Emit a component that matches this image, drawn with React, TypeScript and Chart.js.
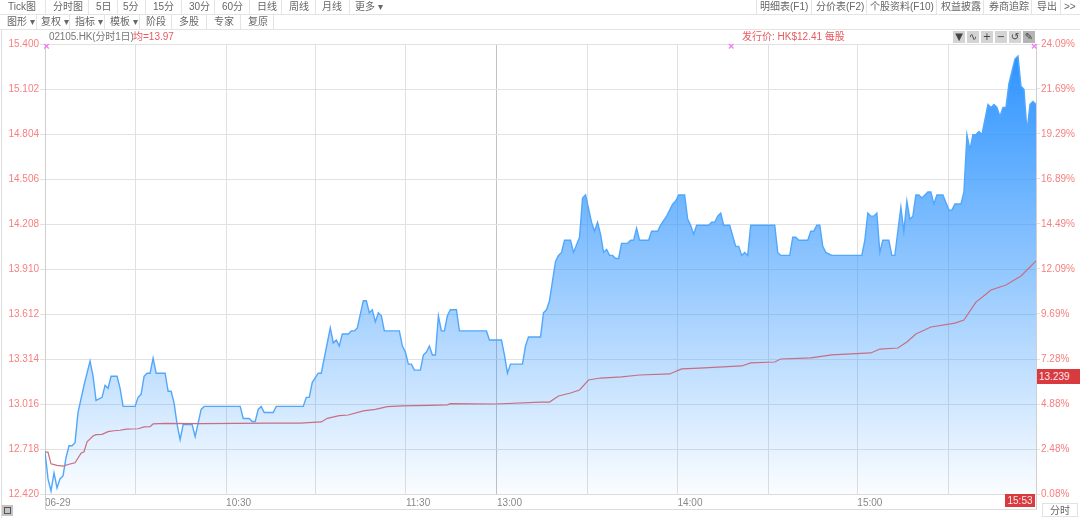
import React, { useEffect, useRef } from "react";
import { Chart, registerables } from "chart.js";

Chart.register(...registerables);

// Trading minutes since 09:30 (lunch break removed)
const priceMinutes = [0,1,2,3,4,5,6,7,8,9,10,11,13,15,16,17,19,20,21,22,24,25,26,30,31,32,33,34,35,36,37,40,41,42,43,44,45,46,49,50,52,53,65,66,68,69,70,71,72,73,75,76,77,86,87,88,89,91,92,95,96,97,98,99,101,102,103,104,106,107,108,109,110,111,112,113,118,119,120,121,122,123,125,126,127,128,129,130,131,132,133,134,135,137,138,147,148,152,153,154,155,159,160,161,165,166,167,168,170,171,172,173,175,176,178,179,180,182,183,184,185,186,187,188,189,190,191,192,194,195,196,197,198,201,202,204,205,207,209,210,211,213,214,215,216,217,221,222,223,224,225,226,228,230,231,232,233,234,235,243,244,245,248,249,250,251,254,255,256,257,258,259,260,262,272,273,274,275,276,277,278,279,281,282,283,285,286,287,288,289,290,291,292,294,295,296,297,299,301,302,303,305,306,307,308,309,310,311,312,314,315,316,317,318,319,320,321,323,324,325,326,327,328,329,330];
const priceValues = [12.70,12.52,12.44,12.56,12.46,12.52,12.54,12.66,12.74,12.74,12.76,12.96,13.14,13.30,13.20,13.04,13.06,13.14,13.12,13.20,13.20,13.12,13.00,13.00,13.06,13.08,13.20,13.22,13.22,13.32,13.22,13.22,13.10,13.10,13.02,12.88,12.78,12.88,12.88,12.80,12.98,13.00,13.00,12.92,12.92,12.90,12.90,12.98,13.00,12.96,12.96,12.96,13.00,13.00,13.06,13.06,13.16,13.22,13.22,13.52,13.42,13.44,13.40,13.48,13.48,13.50,13.50,13.52,13.70,13.70,13.62,13.64,13.56,13.62,13.60,13.50,13.50,13.40,13.36,13.28,13.28,13.24,13.24,13.34,13.36,13.40,13.34,13.34,13.60,13.50,13.50,13.60,13.64,13.64,13.50,13.50,13.44,13.44,13.34,13.22,13.28,13.28,13.40,13.46,13.46,13.62,13.64,13.70,13.96,14.00,14.02,14.10,14.10,14.02,14.12,14.38,14.40,14.22,14.16,14.22,14.14,14.02,14.04,14.00,14.00,13.98,13.98,14.08,14.08,14.10,14.10,14.18,14.10,14.10,14.16,14.16,14.20,14.26,14.34,14.36,14.40,14.40,14.24,14.20,14.14,14.20,14.20,14.22,14.22,14.26,14.28,14.20,14.20,14.06,14.06,14.00,14.02,14.00,14.20,14.20,14.02,14.00,14.00,14.12,14.12,14.10,14.10,14.16,14.16,14.20,14.20,14.06,14.02,14.00,14.00,14.10,14.28,14.26,14.26,14.28,14.02,14.10,14.10,14.00,14.00,14.32,14.16,14.36,14.24,14.26,14.40,14.40,14.38,14.42,14.42,14.34,14.40,14.40,14.30,14.30,14.34,14.34,14.42,14.80,14.70,14.80,14.80,14.82,14.80,15.00,14.98,15.00,14.98,14.92,14.98,14.98,15.14,15.30,15.32,15.12,15.10,14.82,15.00,15.02,15.00];

const avgMinutes = [0,1,2,4,6,8,10,12,13,14,16,17,19,21,23,25,27,31,33,35,36,40,52,75,85,92,94,98,101,106,110,114,119,128,134,135,150,165,168,171,175,178,181,185,192,198,208,212,218,232,235,243,245,255,262,275,278,284,287,290,295,303,306,310,313,315,320,325,328,330];
const avgValues = [12.70,12.696,12.62,12.61,12.605,12.617,12.627,12.69,12.70,12.766,12.804,12.813,12.815,12.833,12.839,12.842,12.85,12.852,12.864,12.866,12.884,12.888,12.886,12.89,12.89,12.897,12.921,12.939,12.943,12.97,12.981,12.998,13.003,13.007,13.01,13.018,13.016,13.029,13.029,13.069,13.089,13.109,13.175,13.188,13.195,13.208,13.215,13.248,13.254,13.268,13.288,13.294,13.314,13.321,13.341,13.354,13.38,13.387,13.427,13.48,13.526,13.552,13.572,13.691,13.738,13.771,13.804,13.864,13.923,13.963];

const priceTicks = [12.42,12.718,13.016,13.314,13.612,13.91,14.208,14.506,14.804,15.102,15.4];
const pctTicks = [0.08,2.48,4.88,7.28,9.69,12.09,14.49,16.89,19.29,21.69,24.09];
const gridMinutes = [0,30,60.3,90.2,120.2,150.5,180.5,210.6,240.8,270.5,300.7];
const timeLabels = ["06-29","","10:30","","11:30","13:00","","14:00","","15:00",""];
const markerMinutes = [0.5,228.5,329.4];
const markerValues = [15.385,15.385,15.385];

const toolbarRow1 = ["Tick图","分时图","5日","5分","15分","30分","60分","日线","周线","月线","更多 ▾"];
const toolbarRow1Right = ["明细表(F1)","分价表(F2)","个股资料(F10)","权益披露","券商追踪","导出",">>"];
const toolbarRow2 = ["图形 ▾","复权 ▾","指标 ▾","模板 ▾","阶段","多股","专家","复原"];
const toolIcons = ["▼","∿","+","−","↺","✎"];
const titleText = "02105.HK(分时1日)";
const avgText = "均=13.97";
const issueText = "发行价: HK$12.41 每股";
const lastPrice = "13.239";
const lastTime = "15:53";
const modeLabel = "分时";

// layout only
const row1X = [8,53,96,123,153,189,222,257,289,322,355];
const row1Sep = [45,88,117,145,181,214,249,281,315,349];
const row1RightX = [760,816,870,941,989,1037,1064];
const row1RightSep = [756,811,866,936,983,1031,1060];
const row2X = [7,41,75,110,146,179,214,248];
const row2Sep = [36,69,104,139,171,206,240,273];
const iconX = [953,967,981,995,1009,1023];

const CJK = '"Liberation Sans","Noto Sans CJK SC",sans-serif';
const textGray = "#666";
const tickRed = "#f77f7f";
const tickFont = { family: "Liberation Sans", size: 10 };

const abs = (left: number, top: number, extra: React.CSSProperties = {}): React.CSSProperties => ({
  position: "absolute", left, top, whiteSpace: "nowrap", ...extra,
});

export default function App() {
  const ref = useRef<HTMLCanvasElement | null>(null);
  useEffect(() => {
    const chart = new Chart(ref.current as HTMLCanvasElement, {
      type: "line",
      data: {
        datasets: [
          {
            label: "markers",
            data: markerMinutes.map((x, i) => ({ x, y: markerValues[i] })),
            showLine: false,
            pointStyle: "crossRot",
            pointRadius: 3.2,
            pointBorderWidth: 1.2,
            pointBorderColor: "#f27af2",
            pointBackgroundColor: "#f27af2",
            clip: false,
            order: 0,
          },
          {
            label: "均价",
            data: avgMinutes.map((x, i) => ({ x, y: avgValues[i] })),
            borderColor: "#c76f80",
            borderWidth: 1.2,
            pointRadius: 0,
            tension: 0,
            fill: false,
            order: 1,
          },
          {
            label: "价格",
            data: priceMinutes.map((x, i) => ({ x, y: priceValues[i] })),
            borderColor: "#52a7fb",
            borderWidth: 1.4,
            pointRadius: 0,
            tension: 0,
            fill: "start",
            backgroundColor: (ctx: any) => {
              const a = ctx.chart.chartArea;
              if (!a) return "rgba(48,150,255,0.5)";
              const g = ctx.chart.ctx.createLinearGradient(0, a.top, 0, a.bottom);
              g.addColorStop(0, "rgba(40,145,255,1)");
              g.addColorStop(1, "rgba(40,145,255,0.02)");
              return g;
            },
            order: 2,
          },
        ],
      },
      options: {
        responsive: false,
        animation: false,
        devicePixelRatio: 1,
        layout: { padding: { top: 44, bottom: 8, left: 0, right: 0 } },
        plugins: { legend: { display: false }, tooltip: { enabled: false } },
        events: [],
        scales: {
          x: {
            type: "linear",
            min: 0,
            max: 330,
            afterBuildTicks: (s: any) => { s.ticks = gridMinutes.map((value) => ({ value })); },
            afterFit: (s: any) => { s.height = 16; },
            grid: {
              color: (c: any) => (c.index === 5 ? "#c2c2c2" : "#e0e0e0"),
              tickLength: 0,
              lineWidth: 1,
            },
            border: { display: false },
            ticks: {
              autoSkip: false,
              maxRotation: 0,
              minRotation: 0,
              align: "start",
              padding: 3,
              color: "#888",
              font: tickFont,
              callback: (_v: any, i: number) => timeLabels[i],
            },
          },
          y: {
            type: "linear",
            position: "left",
            min: 12.42,
            max: 15.4,
            afterBuildTicks: (s: any) => { s.ticks = priceTicks.map((value) => ({ value })); },
            afterFit: (s: any) => { s.width = 45; },
            grid: { color: "#e2e2e2", tickColor: "#e2e2e2", tickLength: 5 },
            border: { display: true, color: "#cfcfcf" },
            ticks: {
              autoSkip: false,
              padding: 1,
              color: tickRed,
              font: tickFont,
              callback: (v: any) => Number(v).toFixed(3),
            },
          },
          y1: {
            type: "linear",
            position: "right",
            min: 0.08,
            max: 24.09,
            afterBuildTicks: (s: any) => { s.ticks = pctTicks.map((value) => ({ value })); },
            afterFit: (s: any) => { s.width = 44; },
            grid: { drawOnChartArea: false, tickColor: "#e2e2e2", tickLength: 4 },
            border: { display: true, color: "#cfcfcf" },
            ticks: {
              autoSkip: false,
              padding: 1,
              color: tickRed,
              font: tickFont,
              callback: (v: any) => Number(v).toFixed(2) + "%",
            },
          },
        },
      } as any,
    });
    return () => chart.destroy();
  }, []);

  const tool = (t: string, x: number, top: number) => (
    <span key={t + x} style={abs(x, top, { font: `10px ${CJK}`, color: textGray, lineHeight: "14px" })}>{t}</span>
  );
  const sep = (x: number, top: number) => (
    <div key={"s" + x + top} style={abs(x, top, { width: 1, height: 14, background: "#e4e4e4" })} />
  );

  return (
    <div style={{ position: "fixed", left: 0, top: 0, width: 1080, height: 518, background: "#fff", overflow: "hidden" }}>
      <canvas ref={ref} width={1080} height={518} style={{ position: "absolute", left: 0, top: 0, display: "block" }} />
      <div style={abs(0, 14, { width: 1080, height: 1, background: "#e4e4e4" })} />
      <div style={abs(0, 29, { width: 1080, height: 1, background: "#e4e4e4" })} />
      <div style={abs(1, 29, { width: 1, height: 489, background: "#dcdcdc" })} />
      <div style={abs(45, 494, { width: 1, height: 15, background: "#cfcfcf" })} />
      <div style={abs(1036, 494, { width: 1, height: 15, background: "#cfcfcf" })} />
      <div style={abs(45, 509, { width: 992, height: 1, background: "#dcdcdc" })} />
      <div style={abs(45, 494, { width: 992, height: 1, background: "#dcdcdc" })} />
      {toolbarRow1.map((t, i) => tool(t, row1X[i], 0))}
      {row1Sep.map((x) => sep(x, 0))}
      {toolbarRow1Right.map((t, i) => tool(t, row1RightX[i], 0))}
      {row1RightSep.map((x) => sep(x, 0))}
      {toolbarRow2.map((t, i) => tool(t, row2X[i], 15))}
      {row2Sep.map((x) => sep(x, 15))}
      <span style={abs(49, 30, { font: `10px ${CJK}`, letterSpacing: "-0.15px", color: "#777", lineHeight: "14px" })}>{titleText}</span>
      <span style={abs(133, 30, { font: `10px ${CJK}`, color: "#e8595f", lineHeight: "14px" })}>{avgText}</span>
      <span style={abs(742, 30, { font: `10px ${CJK}`, color: "#e8595f", lineHeight: "14px" })}>{issueText}</span>
      {toolIcons.map((t, i) => (
        <div key={t} style={abs(iconX[i], 31, { width: 12, height: 12, background: i === 5 ? "#b5b5b5" : "#d4d4d4", color: "#444", font: `10px DejaVu Sans`, lineHeight: "12px", textAlign: "center" })}>{t}</div>
      ))}
      <div style={abs(1037, 369, { width: 43, height: 15, background: "#d93a40", color: "#fdeaea", font: `10px ${CJK}`, lineHeight: "15px", paddingLeft: 2, boxSizing: "border-box" })}>{lastPrice}</div>
      <div style={abs(1005, 494, { width: 30, height: 13, background: "#d93a40", color: "#fdeaea", font: `10px ${CJK}`, lineHeight: "13px", textAlign: "center" })}>{lastTime}</div>
      <div style={abs(1042, 503, { width: 36, height: 14, border: "1px solid #e2e2e2", boxSizing: "border-box", color: textGray, font: `10px ${CJK}`, lineHeight: "13px", textAlign: "center" })}>{modeLabel}</div>
      <div style={abs(2, 505, { width: 11, height: 11, background: "#c4c4c4" })}>
        <div style={abs(2, 2, { width: 7, height: 7, border: "1px solid #555", boxSizing: "border-box" })} />
      </div>
    </div>
  );
}
